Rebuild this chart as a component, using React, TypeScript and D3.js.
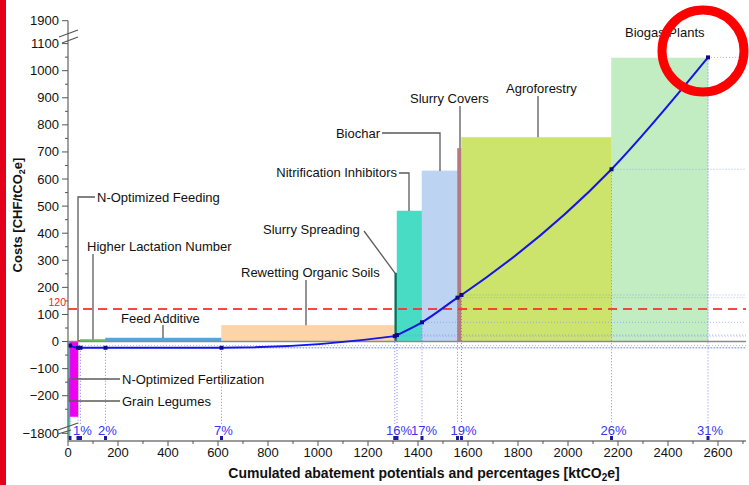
import * as d3 from "d3";

const WIDTH = 749;
const HEIGHT = 485;
const FONT = "'Liberation Sans', Arial, sans-serif";

// measures sorted by cost
const measures = [
  "Grain Legumes",
  "N-Optimized Fertilization",
  "N-Optimized Feeding",
  "Higher Lactation Number",
  "Feed Additive",
  "Rewetting Organic Soils",
  "Slurry Spreading",
  "Nitrification Inhibitors",
  "Biochar",
  "Slurry Covers",
  "Agroforestry",
  "Biogas Plants",
];
// cumulated abatement potential at the end of each bar [ktCO2e]
const potentialEnd = [8, 40, 50, 150, 614, 1307, 1316, 1416, 1558, 1574, 2174, 2560];
// cost of each measure [CHF/tCO2e]
const costs = [-1820, -277, 4, 8, 13, 60, 253, 482, 630, 713, 754, 1047];
const colors = [
  "#1cd9d9",
  "#f000f0",
  "#a31818",
  "#5ccc48",
  "#4fa6e0",
  "#fdd4a8",
  "#0b6c5d",
  "#48dcc4",
  "#bcd4f1",
  "#b57a7b",
  "#cce46b",
  "#c2ecc2",
];
// cumulated average cost curve
const curveCosts = [-15, -23, -23, -23, -23, 20, 24, 71, 162, 172, 636, 1049];
const shareLabels = ["", "", "1%", "2%", "7%", "", "16%", "17%", "", "19%", "26%", "31%"];

const yMajor = [1900, 1100, 1000, 900, 800, 700, 600, 500, 400, 300, 200, 100, 0, -100, -200, -1800];
const yMinor = d3.range(-250, 1100, 50).filter((v) => v % 100 !== 0);
const xMajor = d3.range(0, 2700, 200);
const xMinor = d3.range(100, 2800, 200);
const threshold = 120;

// label placement: [textX, textY, anchor, leader points before the bar top]
const labelLayout: [number, number, string, number[][]][] = [
  [122, 401, "start", [[120, 401], [69, 401], [69, 378]]],
  [122, 379, "start", [[120, 379], [72, 379]]],
  [97, 197, "start", [[95, 197], [78, 197], [78, NaN]]],
  [87, 246, "start", [[93, 254], [93, NaN]]],
  [121, 318, "start", [[163, 325], [163, NaN]]],
  [241, 272, "start", [[306, 280], [306, NaN]]],
  [263, 229, "start", [[364, 231], [395, NaN]]],
  [397, 172, "end", [[399, 173], [409, 173], [409, NaN]]],
  [380, 133, "end", [[382, 133], [440, 133], [440, NaN]]],
  [410, 98, "start", [[460, 106], [460, NaN]]],
  [506, 88, "start", [[538, 96], [538, NaN]]],
  [625, 32, "start", []],
];

const fmt = (v: number) => (v < 0 ? "\u2212" + Math.abs(v) : String(v));

export default function App() {
  const x = d3.scaleLinear().domain([0, 2700]).range([68, 743]);
  // broken axis: two compressed segments at top and bottom
  const y = d3
    .scaleLinear()
    .domain([-1830, -1800, -300, 1100, 1900])
    .range([441, 433.3, 422.8, 43.6, 20.7]);

  const x0 = x(0);
  const xRight = 746;
  const yAxis = 441;

  const starts = potentialEnd.map((_, i) => (i === 0 ? 0 : potentialEnd[i - 1]));

  const bars = measures.map((m, i) => {
    const y1 = y(Math.max(costs[i], 0));
    const y2 = y(Math.min(costs[i], 0));
    return (
      <rect
        key={m}
        x={x(starts[i])}
        y={y1}
        width={x(potentialEnd[i]) - x(starts[i])}
        height={Math.max(y2 - y1, 1)}
        fill={colors[i]}
        stroke={colors[i]}
        strokeOpacity={0.6}
        strokeWidth={0.8}
      />
    );
  });

  const points: [number, number][] = potentialEnd.map((p, i) => [x(p), y(curveCosts[i])]);
  const line = d3.line().curve(d3.curveMonotoneX)(points) || "";

  const labels = measures.map((m, i) => {
    const [tx, ty, anchor, pts] = labelLayout[i];
    const top = y(Math.max(costs[i], 0));
    const full = pts.map((p) => [p[0], isNaN(p[1]) ? top : p[1]]);
    return (
      <g key={m}>
        {full.length > 1 && (
          <polyline
            points={full.map((p) => p.join(",")).join(" ")}
            fill="none"
            stroke="#5a5a5a"
            strokeWidth={1.3}
          />
        )}
        <text x={tx} y={ty} dy="0.35em" textAnchor={anchor} fontSize={13} fill="#111">
          {m}
        </text>
      </g>
    );
  });

  return (
    <svg
      width={WIDTH}
      height={HEIGHT}
      style={{ position: "absolute", left: 0, top: 0, background: "#fff" }}
      fontFamily={FONT}
    >
      <rect x={0} y={0} width={WIDTH} height={HEIGHT} fill="#fff" />
      {bars}

      {/* zero line */}
      <line x1={x0} x2={xRight} y1={y(0)} y2={y(0)} stroke="#8a8a8a" strokeWidth={1.6} />

      {/* threshold */}
      <line
        x1={x0}
        x2={xRight}
        y1={y(threshold)}
        y2={y(threshold)}
        stroke="#ff3030"
        strokeWidth={2}
        strokeDasharray="9,6"
        opacity={0.9}
      />
      <text x={66} y={y(threshold) - 3.5} textAnchor="end" fontSize={10.5} fill="#ff2020">
        {threshold}
      </text>

      {/* dotted guides */}
      {points.map(([px, py], i) => (
        <g key={"g" + i}>
          <line x1={px} x2={px} y1={py} y2={424} stroke="#6a6aff" strokeWidth={1} strokeDasharray="1,2" opacity={0.8} />
          <line x1={px} x2={xRight} y1={py} y2={py} stroke="#7a8aff" strokeWidth={1} strokeDasharray="1,2" opacity={0.6} />
        </g>
      ))}

      {/* cumulated curve */}
      <path d={line} fill="none" stroke="#1515e8" strokeWidth={2} />
      {points.map(([px, py], i) => (
        <rect key={"p" + i} x={px - 2} y={py - 2} width={4} height={4} fill="#0a0a8a" />
      ))}

      {/* share labels and axis markers */}
      {points.map(([px], i) => (
        <g key={"s" + i}>
          <rect x={px - 1.5} y={436} width={3} height={4} fill="#1a1a9a" />
          {shareLabels[i] && (
            <text x={px + 2} y={435} textAnchor="middle" fontSize={13} fill="#3535f5">
              {shareLabels[i]}
            </text>
          )}
        </g>
      ))}

      {labels}

      {/* y axis */}
      <line x1={x0} x2={x0} y1={y(1900)} y2={yAxis} stroke="#7a7a7a" strokeWidth={1.4} />
      {yMajor.map((v) => (
        <g key={"ym" + v}>
          <line x1={x0 - 6} x2={x0} y1={y(v)} y2={y(v)} stroke="#555" strokeWidth={1} />
          <text x={59} y={y(v)} dy="0.35em" textAnchor="end" fontSize={13} fill="#111">
            {fmt(v)}
          </text>
        </g>
      ))}
      {yMinor.map((v) => (
        <line key={"yn" + v} x1={x0 - 3} x2={x0} y1={y(v)} y2={y(v)} stroke="#555" strokeWidth={1} />
      ))}
      {/* axis breaks */}
      <line x1={59} y1={37} x2={78} y2={30} stroke="#555" strokeWidth={1.2} />
      <line x1={62} y1={43} x2={78} y2={37} stroke="#555" strokeWidth={1.2} />
      <line x1={58} y1={430} x2={78} y2={423} stroke="#555" strokeWidth={1.2} />
      <line x1={58} y1={434} x2={71} y2={430} stroke="#555" strokeWidth={1.2} />

      {/* x axis */}
      <line x1={x0} x2={xRight} y1={yAxis} y2={yAxis} stroke="#7a7a7a" strokeWidth={1.6} />
      {xMajor.map((v) => (
        <g key={"xm" + v}>
          <line x1={x(v)} x2={x(v)} y1={yAxis} y2={yAxis + 5} stroke="#555" strokeWidth={1} />
          <text x={x(v)} y={457} textAnchor="middle" fontSize={13} fill="#111">
            {v}
          </text>
        </g>
      ))}
      {xMinor.map((v) => (
        <line key={"xn" + v} x1={x(v)} x2={x(v)} y1={yAxis} y2={yAxis + 3} stroke="#555" strokeWidth={1} />
      ))}

      {/* axis titles */}
      <text x={424} y={478} textAnchor="middle" fontSize={14} fontWeight="bold" fill="#111">
        Cumulated abatement potentials and percentages [ktCO
        <tspan fontSize={10} dy={3}>2</tspan>
        <tspan dy={-3}>e]</tspan>
      </text>
      <text
        transform={`translate(22,215) rotate(-90)`}
        textAnchor="middle"
        fontSize={13}
        fontWeight="bold"
        fill="#111"
      >
        Costs [CHF/tCO
        <tspan fontSize={9} dy={3}>2</tspan>
        <tspan dy={-3}>e]</tspan>
      </text>

      {/* annotations on the picture */}
      <rect x={0} y={0} width={6} height={HEIGHT} fill="#e3001b" />
      <circle cx={703} cy={51} r={41} fill="none" stroke="#ff0000" strokeWidth={9} />
    </svg>
  );
}
